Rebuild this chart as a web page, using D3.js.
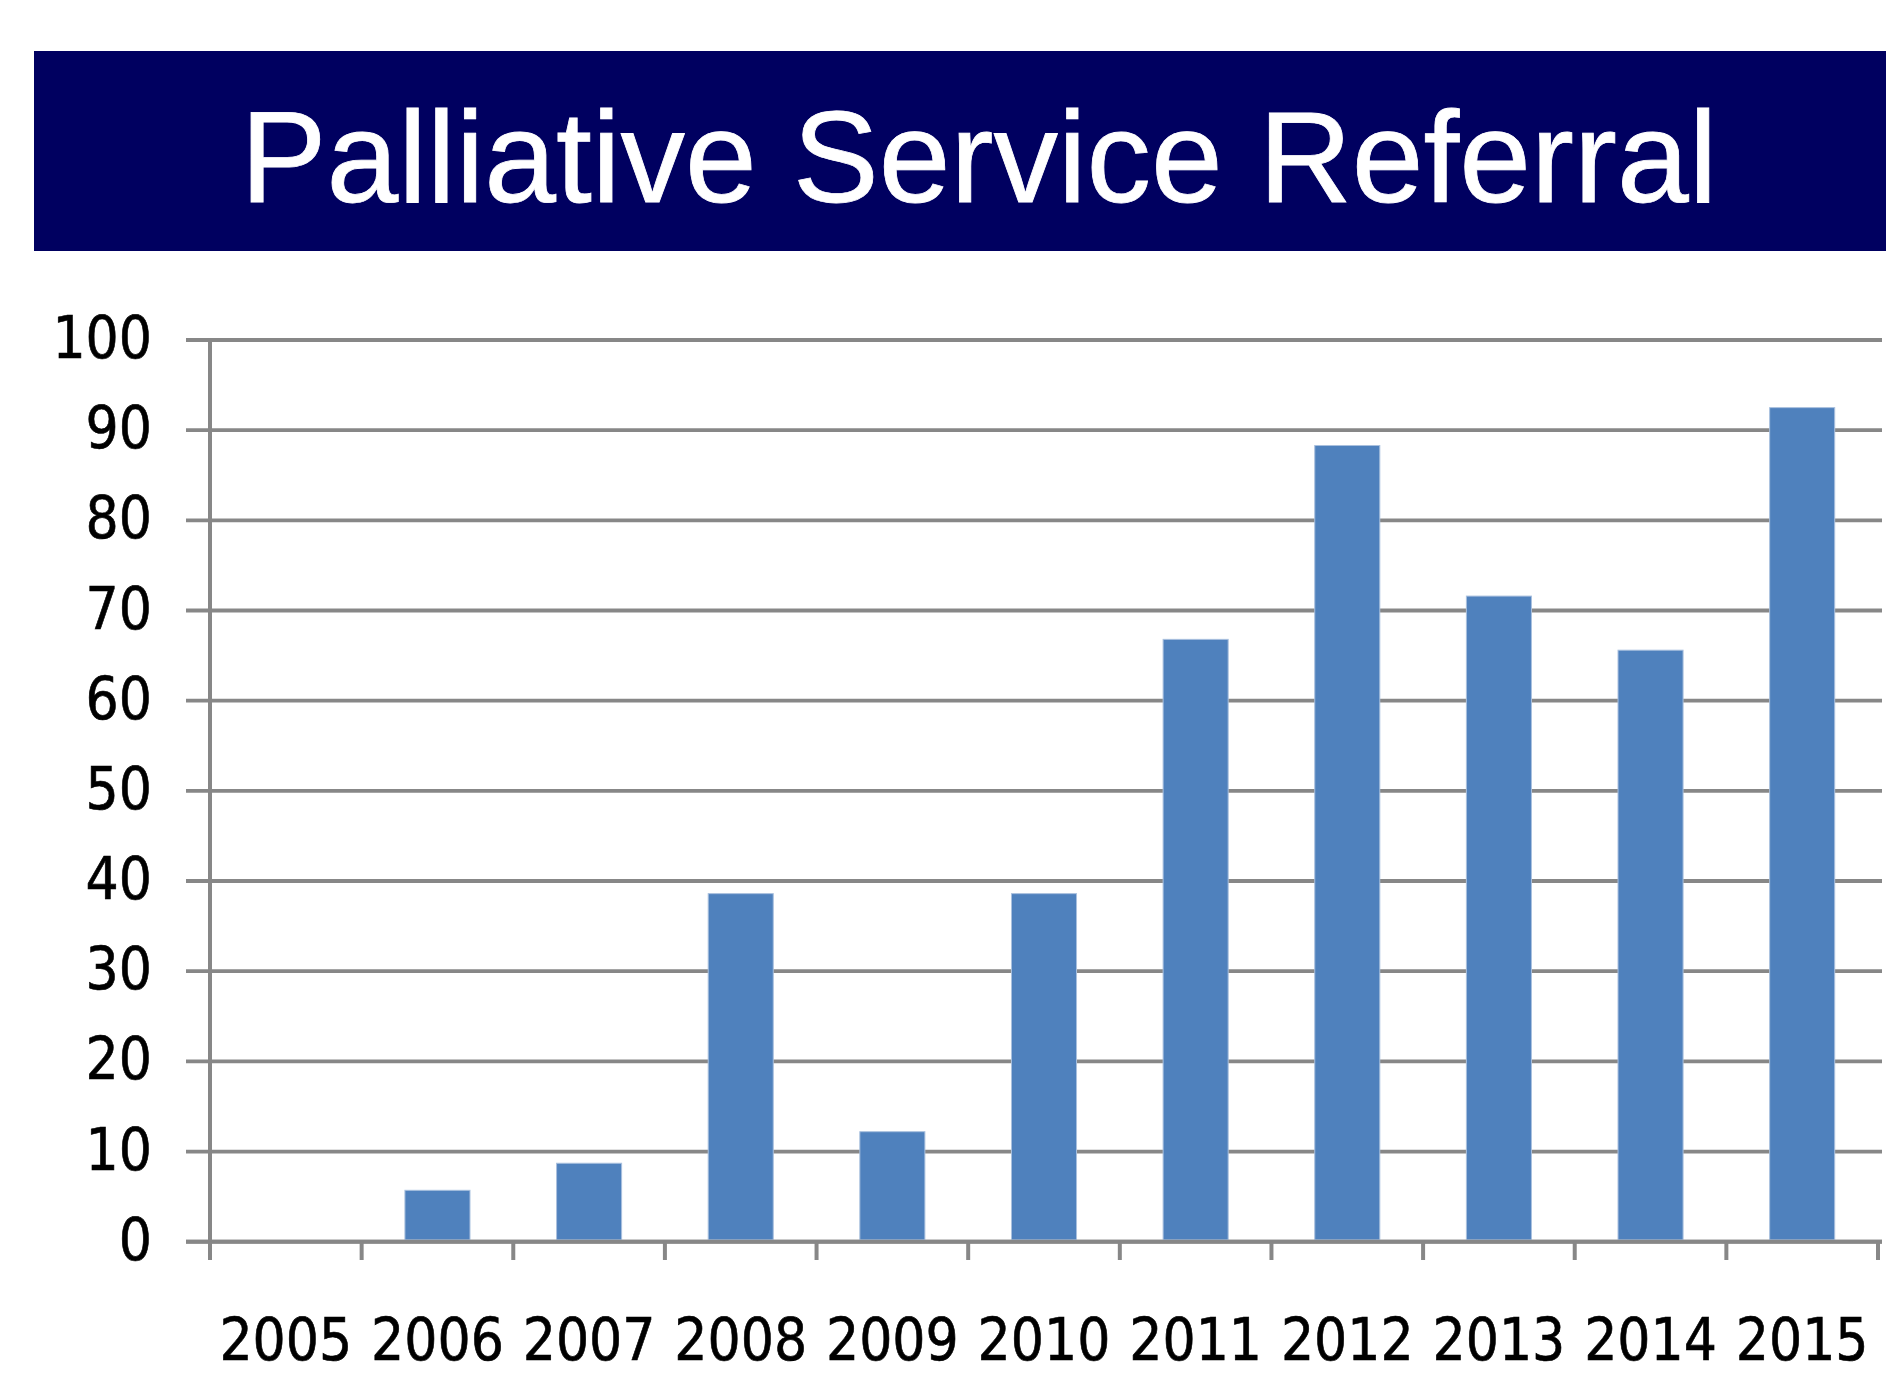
<!DOCTYPE html>
<html>
<head>
<meta charset="utf-8">
<script src="https://cdn.jsdelivr.net/npm/d3@7/dist/d3.min.js"></script>
<style>
  html, body { margin: 0; padding: 0; background: #ffffff; }
  svg { display: block; }
</style>
</head>
<body>
<script>
const titleText = "Palliative Service Referral";
const years = ["2005","2006","2007","2008","2009","2010","2011","2012","2013","2014","2015"];
const referrals = [0, 5.7, 8.7, 38.6, 12.2, 38.6, 66.8, 88.3, 71.6, 65.6, 92.5];
const yTicks = [0,10,20,30,40,50,60,70,80,90,100];

const W = 1886, H = 1379;
const svg = d3.select("body").append("svg").attr("width", W).attr("height", H);

// Title band
svg.append("rect").attr("x", 34).attr("y", 51).attr("width", W - 34).attr("height", 200)
  .attr("fill", "#000060");
svg.append("text").attr("x", 979).attr("y", 202)
  .attr("text-anchor", "middle")
  .attr("font-family", "'Liberation Sans', Arial, sans-serif")
  .attr("font-size", 129)
  .attr("fill", "#ffffff")
  .attr("stroke", "#ffffff")
  .attr("stroke-width", 0.8)
  .text(titleText);

const x = d3.scaleBand().domain(years).range([210, 1878]).paddingInner(0).paddingOuter(0);
const y = d3.scaleLinear().domain([0, 100]).range([1241.7, 340]);

const gridColor = "#878787";
const labelFont = "'DejaVu Sans Condensed', 'DejaVu Sans', sans-serif";

// Gridlines (including tick stubs left of axis)
svg.append("g").selectAll("line").data(yTicks).join("line")
  .attr("x1", 186).attr("x2", 1882)
  .attr("y1", d => y(d)).attr("y2", d => y(d))
  .attr("stroke", gridColor).attr("stroke-width", 3.8);

// Bars
const barFrac = 0.429;
svg.append("g").selectAll("rect").data(years.map((yr, i) => ({yr, v: referrals[i]})).filter(d => d.v > 0))
  .join("rect")
  .attr("x", d => x(d.yr) + x.bandwidth() * (1 - barFrac) / 2)
  .attr("width", x.bandwidth() * barFrac)
  .attr("y", d => y(d.v))
  .attr("height", d => y(0) - y(d.v) - 1.8)
  .attr("fill", "#4f81bd")
  .attr("stroke", "#a9c0de")
  .attr("stroke-width", 1);

// Y axis line
svg.append("line").attr("x1", 210).attr("x2", 210).attr("y1", 338).attr("y2", 1260)
  .attr("stroke", gridColor).attr("stroke-width", 4);

// X axis baseline
svg.append("line").attr("x1", 186).attr("x2", 1882).attr("y1", y(0)).attr("y2", y(0))
  .attr("stroke", gridColor).attr("stroke-width", 4);

// X tick marks at band boundaries
const boundaries = years.map(d => x(d)).concat([x.range()[1]]);
svg.append("g").selectAll("line").data(boundaries).join("line")
  .attr("x1", d => d).attr("x2", d => d)
  .attr("y1", y(0)).attr("y2", 1260)
  .attr("stroke", gridColor).attr("stroke-width", 4);

// Y labels
svg.append("g").selectAll("text").data(yTicks).join("text")
  .attr("x", 152).attr("y", d => y(d) + 18)
  .attr("text-anchor", "end")
  .attr("font-family", labelFont)
  .attr("font-size", 58)
  .attr("fill", "#000000")
  .attr("stroke", "#000000")
  .attr("stroke-width", 0.6)
  .text(d => d);

// X labels
svg.append("g").selectAll("text").data(years).join("text")
  .attr("x", d => x(d) + x.bandwidth() / 2)
  .attr("y", 1360)
  .attr("text-anchor", "middle")
  .attr("font-family", labelFont)
  .attr("font-size", 58)
  .attr("fill", "#000000")
  .attr("stroke", "#000000")
  .attr("stroke-width", 0.6)
  .text(d => d);
</script>
</body>
</html>
